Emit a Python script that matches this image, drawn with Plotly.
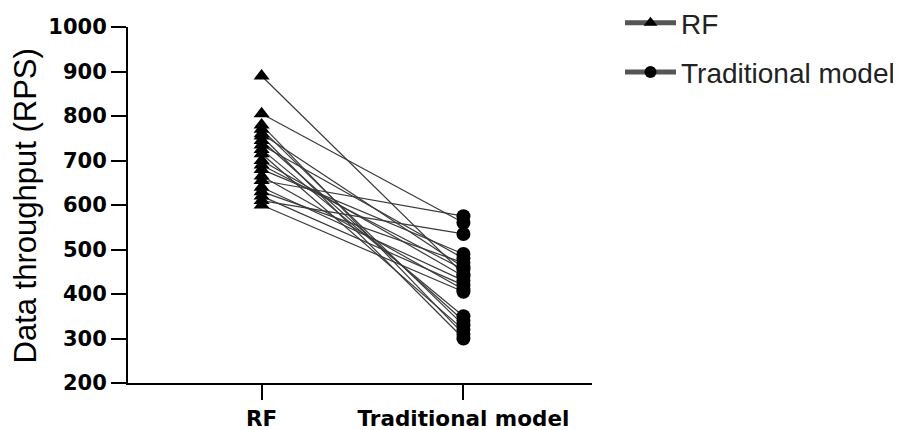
import plotly.graph_objects as go

categories = ["RF", "Traditional model"]
rf_values = [890, 805, 780, 770, 760, 755, 745, 735, 725, 715, 700, 690, 680, 665, 655, 640, 630, 620, 610, 600]
trad_values = [445, 560, 310, 330, 460, 300, 340, 480, 350, 320, 440, 455, 490, 410, 575, 430, 470, 420, 535, 405]
y_ticks = [200, 300, 400, 500, 600, 700, 800, 900, 1000]

fig = go.Figure()

# connecting lines
for a, b in zip(rf_values, trad_values):
    fig.add_trace(go.Scatter(
        x=[0, 1], y=[a, b], mode="lines",
        line=dict(color="#3a3a3a", width=1.2),
        showlegend=False, hoverinfo="skip"))

def with_gaps(xv, ys):
    xs, yy = [], []
    for v in ys:
        xs += [xv, None]
        yy += [v, None]
    return xs, yy

xs, ys = with_gaps(0, rf_values)
fig.add_trace(go.Scatter(
    x=xs, y=ys, mode="lines+markers", name="RF", legendgroup="a",
    marker=dict(symbol="triangle-up", size=14, color="black"),
    line=dict(color="#555555", width=1.5), connectgaps=False))
xs, ys = with_gaps(1, trad_values)
fig.add_trace(go.Scatter(
    x=xs, y=ys, mode="lines+markers", name="Traditional model", legendgroup="b",
    marker=dict(symbol="circle", size=14, color="black"),
    line=dict(color="#555555", width=1.5), connectgaps=False))

# page body has an 8px margin; compensate so the figure lands at the screen edges
OFF = 8
W, H = 901 - OFF, 430 - OFF
plot_left, plot_right, plot_top, plot_bottom = 128, 592, 27, 383  # screen pixels
plot_w = plot_right - plot_left
plot_h = plot_bottom - plot_top

fig.update_layout(
    width=W, height=H,
    margin=dict(l=plot_left - OFF, r=901 - plot_right, t=plot_top - OFF, b=430 - plot_bottom,
                autoexpand=False),
    paper_bgcolor="white", plot_bgcolor="white",
    showlegend=True,
    legend=dict(x=(620 - plot_left) / plot_w, y=(plot_bottom + 2) / plot_h,
                xanchor="left", yanchor="top",
                font=dict(family="Liberation Sans, Arial", size=28, color="#222"),
                itemwidth=51, tracegroupgap=10, bgcolor="rgba(0,0,0,0)", itemsizing="constant"),
    xaxis=dict(range=[-0.662, 1.637], tickvals=[0, 1], ticktext=categories,
               showline=True, linecolor="black", linewidth=2,
               ticks="outside", ticklen=15, tickwidth=2, tickcolor="black",
               showgrid=False, zeroline=False,
               tickfont=dict(family="DejaVu Sans", size=21.5, color="black", weight="bold")),
    yaxis=dict(range=[200, 1000], tickvals=y_ticks,
               showline=True, linecolor="black", linewidth=2,
               ticks="outside", ticklen=15, tickwidth=2, tickcolor="black",
               showgrid=False, zeroline=False,
               tickfont=dict(family="DejaVu Sans", size=21, color="black", weight="bold")),
    annotations=[dict(text="Data throughput (RPS)", textangle=-90,
                      xref="paper", yref="paper",
                      x=(25 - plot_left) / plot_w, y=(plot_bottom - 206.5) / plot_h,
                      xanchor="center", yanchor="middle", showarrow=False,
                      font=dict(family="Liberation Sans, Arial", size=31, color="black"))],
)

fig.write_html("out.html")
